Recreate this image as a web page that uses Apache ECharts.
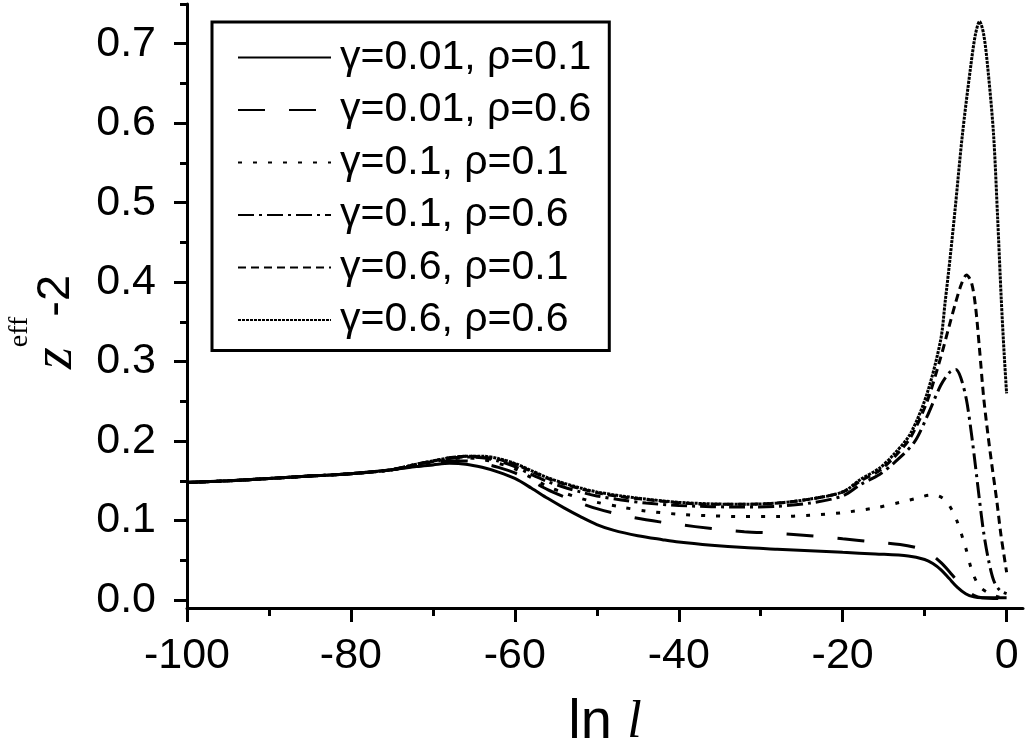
<!DOCTYPE html>
<html>
<head>
<meta charset="utf-8">
<script src="https://cdn.jsdelivr.net/npm/echarts@6/dist/echarts.min.js"></script>
<style>
  html, body { margin: 0; padding: 0; background: #fff; }
  #chart { width: 1027px; height: 742px; }
</style>
</head>
<body>
<div id="chart"></div>
<script>
// tick values
var xMajor = [-100, -80, -60, -40, -20, 0];
var xMinor = [-90, -70, -50, -30, -10];
var yMajor = [0, 0.1, 0.2, 0.3, 0.4, 0.5, 0.6, 0.7];
var yMinor = [0.05, 0.15, 0.25, 0.35, 0.45, 0.55, 0.65, 0.75];

var seriesNames = [
  'γ=0.01, ρ=0.1',
  'γ=0.01, ρ=0.6',
  'γ=0.1, ρ=0.1',
  'γ=0.1, ρ=0.6',
  'γ=0.6, ρ=0.1',
  'γ=0.6, ρ=0.6'
];

// [ln l, z_eff - 2]
var g001r01 = [
  [-100, 0.148], [-95, 0.150], [-90, 0.153], [-85, 0.156], [-80, 0.159], [-75, 0.164],
  [-72, 0.168], [-70, 0.170], [-68, 0.172], [-66, 0.171], [-64, 0.167], [-62, 0.161],
  [-60, 0.153], [-58, 0.141], [-56, 0.128], [-54, 0.116], [-52, 0.105], [-50, 0.095],
  [-48, 0.088], [-45, 0.081], [-42, 0.076], [-40, 0.073], [-36, 0.069], [-32, 0.066],
  [-28, 0.064], [-24, 0.062], [-20, 0.060], [-16, 0.058], [-12, 0.0555], [-10, 0.051],
  [-9, 0.046], [-8, 0.038], [-7, 0.027], [-6, 0.016], [-5, 0.008], [-4, 0.004],
  [-3, 0.003], [-1, 0.003], [0, 0.003]
];
var g001r06 = [
  [-100, 0.148], [-95, 0.150], [-90, 0.153], [-85, 0.156], [-80, 0.159], [-75, 0.164],
  [-72, 0.169], [-70, 0.172], [-68, 0.175], [-66, 0.175], [-64, 0.172], [-62, 0.167],
  [-60, 0.160], [-58, 0.150], [-56, 0.139], [-54, 0.130], [-52, 0.122], [-50, 0.115],
  [-47, 0.107], [-44, 0.101], [-40, 0.095], [-36, 0.090], [-32, 0.086], [-28, 0.084],
  [-24, 0.081], [-20, 0.077], [-16, 0.073], [-13, 0.070], [-11, 0.066], [-10, 0.062],
  [-9, 0.056], [-8, 0.047], [-7, 0.036], [-6, 0.024], [-5, 0.013], [-4, 0.006],
  [-3, 0.003], [-1, 0.002], [0, 0.002]
];
var g01r01 = [
  [-100, 0.148], [-95, 0.150], [-90, 0.153], [-85, 0.156], [-80, 0.159], [-75, 0.164],
  [-72, 0.170], [-70, 0.173], [-68, 0.177], [-66, 0.179], [-64, 0.177], [-62, 0.172],
  [-60, 0.165], [-58, 0.154], [-56, 0.143], [-54, 0.135], [-52, 0.128], [-50, 0.123],
  [-47, 0.117], [-44, 0.112], [-40, 0.108], [-36, 0.106], [-32, 0.105], [-28, 0.105],
  [-24, 0.1067], [-20, 0.110], [-16, 0.116], [-13, 0.123], [-11, 0.128], [-9.3, 0.132],
  [-8.3, 0.131], [-7.4, 0.125], [-6.6, 0.112], [-6, 0.098], [-5, 0.066], [-4.2, 0.036],
  [-3.3, 0.017], [-2.2, 0.009], [-1, 0.004], [0, 0.002]
];
var g01r06 = [
  [-100, 0.148], [-95, 0.150], [-90, 0.153], [-85, 0.156], [-80, 0.159], [-75, 0.164],
  [-72, 0.171], [-70, 0.174], [-68, 0.178], [-66, 0.180], [-64, 0.179], [-62, 0.175],
  [-60, 0.168], [-58, 0.158], [-56, 0.149], [-54, 0.142], [-52, 0.136], [-50, 0.131],
  [-47, 0.126], [-44, 0.122], [-40, 0.119], [-36, 0.1175], [-32, 0.117], [-28, 0.118],
  [-24, 0.122], [-20, 0.131], [-17.8, 0.1455], [-15.5, 0.158], [-13.7, 0.173], [-11.3, 0.198],
  [-9.7, 0.231], [-8.05, 0.27], [-7, 0.286], [-6.2, 0.29], [-5.6, 0.28], [-4.9, 0.252],
  [-4.3, 0.21], [-3.8, 0.1685], [-3.3, 0.125], [-2.8, 0.085], [-2.2, 0.05], [-1.55, 0.024],
  [-0.8, 0.012], [0, 0.008]
];
var g06r01 = [
  [-100, 0.148], [-95, 0.150], [-90, 0.153], [-85, 0.156], [-80, 0.159], [-75, 0.164],
  [-72, 0.171], [-70, 0.175], [-68, 0.179], [-66, 0.181], [-64, 0.180], [-62, 0.177],
  [-60, 0.171], [-58, 0.162], [-56, 0.153], [-54, 0.146], [-52, 0.140], [-50, 0.135],
  [-47, 0.130], [-44, 0.1265], [-40, 0.1225], [-36, 0.1205], [-32, 0.1205], [-28, 0.122],
  [-24, 0.127], [-20, 0.136], [-17.8, 0.150], [-15.5, 0.163], [-13.7, 0.180], [-11.7, 0.205],
  [-9.7, 0.25], [-8.05, 0.305], [-7, 0.345], [-6.2, 0.375], [-5.5, 0.398], [-4.9, 0.409],
  [-4.3, 0.400], [-3.8, 0.37], [-3.3, 0.315], [-2.8, 0.255], [-2.3, 0.21], [-1.8, 0.17],
  [-1.2, 0.125], [-0.73, 0.085], [-0.3, 0.055], [0, 0.035]
];
var g06r06 = [
  [-100, 0.148], [-95, 0.150], [-90, 0.153], [-85, 0.156], [-80, 0.159], [-75, 0.164],
  [-72, 0.171], [-70, 0.175], [-68, 0.179], [-66, 0.181], [-64, 0.181], [-62, 0.178],
  [-60, 0.172], [-58, 0.163], [-56, 0.154], [-54, 0.147], [-52, 0.141], [-50, 0.136],
  [-47, 0.131], [-44, 0.127], [-40, 0.123], [-36, 0.121], [-32, 0.1205], [-28, 0.122],
  [-24, 0.127], [-20, 0.136], [-17.8, 0.152], [-15.5, 0.166], [-13.7, 0.184], [-11.7, 0.21],
  [-9.7, 0.26], [-8.05, 0.327], [-7.5, 0.375], [-6.9, 0.43], [-6.3, 0.49], [-5.4, 0.585],
  [-4.4, 0.67], [-3.8, 0.712], [-3.3, 0.728], [-2.8, 0.712], [-2.3, 0.67], [-1.6, 0.587],
  [-1.1, 0.482], [-0.65, 0.378], [-0.3, 0.31], [0, 0.26]
];

var seriesData = [g001r01, g001r06, g01r01, g01r06, g06r01, g06r06];
var dashTypes = ['solid', [27, 24], [4, 11], [16, 5, 3, 5], [8, 5], [3, 1]];

var chart = echarts.init(document.getElementById('chart'));

var series = seriesData.map(function (d, i) {
  return {
    name: seriesNames[i],
    type: 'line',
    data: d,
    xAxisIndex: 0,
    yAxisIndex: 0,
    smooth: 0.3,
    symbol: 'none',
    showSymbol: false,
    lineStyle: { color: '#000', width: 3, type: dashTypes[i] },
    itemStyle: { color: '#000' },
    emphasis: { disabled: true },
    z: 2
  };
});

var sans = 'Liberation Sans, Arial, sans-serif';
var serif = 'Liberation Serif, Times New Roman, serif';

var option = {
  animation: false,
  backgroundColor: '#fff',
  textStyle: { fontFamily: sans, color: '#000' },
  grid: { left: 187, right: 4, top: 4, bottom: 134, containLabel: false, outerBoundsMode: 'none' },
  legend: {
    orient: 'vertical',
    left: 212,
    top: 22,
    padding: [15, 18, 10, 25],
    itemWidth: 93,
    itemHeight: 14,
    itemGap: 11.5,
    borderColor: '#000',
    borderWidth: 3,
    backgroundColor: '#fff',
    selectedMode: false,
    lineStyle: { width: 2 },
    itemStyle: { opacity: 0, color: 'transparent', borderWidth: 0 },
    textStyle: { fontSize: 41, lineHeight: 40, color: '#000', fontFamily: sans, padding: [0, 0, 0, 4] },
    data: seriesNames
  },
  xAxis: [
    {
      type: 'value', min: -100, max: 2, position: 'bottom',
      axisLine: { show: true, onZero: false, lineStyle: { color: '#000', width: 3 } },
      axisTick: { show: true, customValues: xMajor, length: 14, lineStyle: { color: '#000', width: 3 } },
      axisLabel: { show: true, customValues: xMajor, fontSize: 43, color: '#000', margin: 27,
        formatter: function (v) { return String(v); } },
      splitLine: { show: false },
      name: '{a|ln }{b|l}',
      nameLocation: 'middle',
      nameGap: 87,
      nameTextStyle: {
        rich: {
          a: { fontFamily: sans, fontSize: 56, color: '#000', lineHeight: 56 },
          b: { fontFamily: serif, fontStyle: 'italic', fontSize: 52, color: '#000', lineHeight: 56 }
        }
      }
    },
    {
      type: 'value', min: -100, max: 2, position: 'bottom',
      axisLine: { show: false, onZero: false },
      axisTick: { show: true, customValues: xMinor, length: 8, lineStyle: { color: '#000', width: 3 } },
      axisLabel: { show: false },
      splitLine: { show: false }
    }
  ],
  yAxis: [
    {
      type: 'value', min: -0.01, max: 0.75, position: 'left',
      axisLine: { show: true, onZero: false, lineStyle: { color: '#000', width: 3 } },
      axisTick: { show: true, customValues: yMajor, length: 13, lineStyle: { color: '#000', width: 3 } },
      axisLabel: { show: true, customValues: yMajor, fontSize: 43, color: '#000', margin: 31,
        formatter: function (v) { return v.toFixed(1); } },
      splitLine: { show: false },
      name: '{z|z}{e|eff}{m|-2}',
      nameLocation: 'middle',
      nameRotate: 90,
      nameGap: 81,
      nameTextStyle: {
        padding: [0, 32, 0, 0],
        rich: {
          z: { fontFamily: serif, fontStyle: 'italic', fontSize: 56, color: '#000' },
          e: { fontFamily: serif, fontSize: 28, color: '#000', padding: [0, 0, 72, 0] },
          m: { fontFamily: sans, fontSize: 47, color: '#000' }
        }
      }
    },
    {
      type: 'value', min: -0.01, max: 0.75, position: 'left',
      axisLine: { show: false, onZero: false },
      axisTick: { show: true, customValues: yMinor, length: 7, lineStyle: { color: '#000', width: 3 } },
      axisLabel: { show: false },
      splitLine: { show: false }
    }
  ],
  series: series
};

chart.setOption(option);

window.addEventListener('resize', function () {
  chart.resize();
});
</script>
</body>
</html>
